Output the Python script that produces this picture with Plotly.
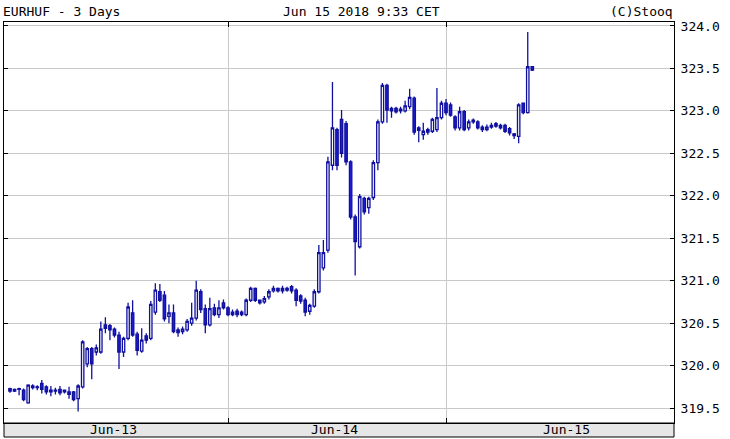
import pandas as pd
import plotly.graph_objects as go

# ---- data (EURHUF, 30-minute candles, Jun 13 00:00 -> Jun 15 09:30) ----
opens = [
    319.73, 319.72, 319.73, 319.71, 319.56, 319.76, 319.75, 319.79, 319.75, 319.71,
    319.70, 319.72, 319.69, 319.69, 319.69, 319.61, 319.75, 320.02, 320.20, 320.16,
    320.16, 320.48, 320.47, 320.43, 320.36, 320.16, 320.32, 320.62, 320.37, 320.17,
    320.35, 320.32, 320.63, 320.87, 320.83, 320.58, 320.62, 320.42, 320.40, 320.42,
    320.50, 320.56, 320.87, 320.67, 320.48, 320.68, 320.60, 320.74, 320.68, 320.63,
    320.64, 320.63, 320.60, 320.77, 320.91, 320.77, 320.75, 320.81, 320.88, 320.91,
    320.91, 320.91, 320.93, 320.89, 320.82, 320.77, 320.64, 320.70, 320.87, 321.15,
    321.36, 322.36, 322.78, 322.90, 322.85, 322.40, 321.75, 321.40, 321.97, 321.86,
    321.98, 322.39, 322.87, 323.30, 323.03, 323.03, 323.02, 323.00, 323.05, 323.15,
    322.80, 322.72, 322.78, 322.76, 322.78, 322.92, 323.09, 323.07, 322.93, 322.80,
    322.99, 322.80, 322.87, 322.87, 322.81, 322.78, 322.81, 322.85, 322.83, 322.83,
    322.79, 322.73, 322.70, 323.09, 322.98, 323.52,
]
highs = [
    319.74, 319.73, 319.74, 319.73, 319.78, 319.78, 319.77, 319.83, 319.77, 319.76,
    319.74, 319.76, 319.72, 319.75, 319.70, 319.78, 320.30, 320.22, 320.22, 320.25,
    320.52, 320.57, 320.49, 320.45, 320.40, 320.34, 320.74, 320.77, 320.40, 320.44,
    320.38, 320.76, 320.97, 320.96, 320.88, 320.72, 320.72, 320.45, 320.46, 320.55,
    320.74, 321.00, 320.90, 320.72, 320.80, 320.73, 320.77, 320.78, 320.70, 320.66,
    320.67, 320.65, 320.79, 320.93, 320.92, 320.78, 320.82, 320.90, 320.94, 320.92,
    320.94, 320.93, 320.95, 320.91, 320.84, 320.80, 320.73, 320.90, 321.42, 321.48,
    322.46, 323.34, 322.80, 323.01, 322.88, 322.42, 321.78, 322.02, 321.99, 321.99,
    322.42, 322.90, 323.33, 323.32, 323.05, 323.05, 323.05, 323.12, 323.26, 323.17,
    322.82, 322.86, 322.80, 322.92, 323.27, 323.12, 323.14, 323.10, 322.95, 323.05,
    323.01, 322.90, 322.91, 322.89, 322.83, 322.84, 322.86, 322.87, 322.85, 322.85,
    322.81, 322.74, 323.09, 323.10, 323.93, 323.53,
]
lows = [
    319.68, 319.69, 319.65, 319.58, 319.55, 319.72, 319.71, 319.67, 319.66, 319.64,
    319.66, 319.65, 319.67, 319.61, 319.58, 319.46, 319.73, 319.98, 319.84, 320.12,
    320.14, 320.38, 320.30, 320.33, 319.96, 320.10, 320.30, 320.34, 320.12, 320.15,
    320.26, 320.30, 320.60, 320.75, 320.52, 320.50, 320.38, 320.34, 320.37, 320.40,
    320.47, 320.53, 320.62, 320.38, 320.46, 320.58, 320.56, 320.66, 320.58, 320.58,
    320.57, 320.58, 320.58, 320.75, 320.75, 320.72, 320.73, 320.78, 320.86, 320.86,
    320.85, 320.87, 320.85, 320.70, 320.73, 320.58, 320.60, 320.68, 320.85, 321.12,
    321.33, 322.30, 322.30, 322.45, 322.36, 321.72, 321.06, 321.38, 321.78, 321.79,
    321.95, 322.30, 322.85, 322.86, 322.92, 322.97, 322.97, 322.98, 323.02, 322.72,
    322.63, 322.66, 322.72, 322.74, 322.75, 322.90, 322.95, 322.93, 322.77, 322.77,
    322.76, 322.77, 322.85, 322.78, 322.75, 322.76, 322.79, 322.80, 322.78, 322.74,
    322.71, 322.67, 322.62, 322.96, 322.97, 323.47,
]
closes = [
    319.70, 319.70, 319.72, 319.60, 319.77, 319.74, 319.74, 319.72, 319.69, 319.69,
    319.71, 319.68, 319.71, 319.66, 319.60, 319.76, 320.28, 320.20, 320.02, 320.21,
    320.43, 320.44, 320.42, 320.36, 320.16, 320.32, 320.69, 320.36, 320.18, 320.30,
    320.30, 320.72, 320.89, 320.77, 320.55, 320.62, 320.40, 320.39, 320.43, 320.52,
    320.56, 320.89, 320.66, 320.48, 320.67, 320.60, 320.68, 320.68, 320.60, 320.60,
    320.60, 320.60, 320.77, 320.91, 320.77, 320.74, 320.79, 320.87, 320.91, 320.88,
    320.88, 320.89, 320.88, 320.77, 320.76, 320.63, 320.71, 320.87, 321.33, 321.33,
    322.40, 322.80, 322.36, 322.50, 322.40, 321.75, 321.46, 321.99, 321.81, 321.97,
    322.39, 322.87, 323.30, 323.01, 323.00, 322.99, 323.00, 323.06, 323.16, 322.75,
    322.77, 322.76, 322.75, 322.90, 322.92, 323.09, 322.98, 322.95, 322.80, 322.99,
    322.78, 322.87, 322.89, 322.80, 322.78, 322.81, 322.83, 322.82, 322.80, 322.76,
    322.74, 322.71, 323.07, 322.98, 323.52, 323.48,
]
times = pd.date_range("2018-06-13 00:00", periods=len(opens), freq="30min")

day_ticks = ["2018-06-14 00:00", "2018-06-15 00:00"]
y_ticks = [319.5, 320.0, 320.5, 321.0, 321.5, 322.0, 322.5, 323.0, 323.5, 324.0]
bottom_labels = ["Jun-13", "Jun-14", "Jun-15"]
bottom_label_pos = [0.1627, 0.494, 0.840]

title_left = "EURHUF - 3 Days"
title_mid = "Jun 15 2018 9:33 CET"
title_right = "(C)Stooq"

FONT = "DejaVu Sans Mono"
LINE = "#1010a0"
FILL_DOWN = "#1e1ed2"
GRID = "#c9c9c9"

fig = go.Figure()
fig.add_trace(go.Candlestick(
    x=times, open=opens, high=highs, low=lows, close=closes,
    increasing=dict(line=dict(color=LINE, width=1.3), fillcolor="white"),
    decreasing=dict(line=dict(color=LINE, width=1.3), fillcolor=FILL_DOWN),
    whiskerwidth=0, showlegend=False, hoverinfo="skip",
))

W, H = 730, 439
ml, mr, mt, mb = 4, 56, 22, 16
ph = H - mt - mb
band = 14 / ph

fig.update_layout(
    width=W, height=H,
    margin=dict(l=ml, r=mr, t=mt, b=mb, pad=0),
    paper_bgcolor="white", plot_bgcolor="white",
    font=dict(family=FONT, size=13, color="black"),
    showlegend=False,
    boxgap=0.25,
    xaxis=dict(
        type="date",
        range=["2018-06-12 23:20:22", "2018-06-16 01:06:03"],
        rangeslider=dict(visible=False),
        tickvals=day_ticks, ticktext=["", ""],
        showgrid=True, gridcolor=GRID, gridwidth=1,
        ticks="inside", ticklen=5, tickcolor="black", tickwidth=1,
        showline=True, linecolor="black", linewidth=1, mirror="ticks",
        zeroline=False,
    ),
    yaxis=dict(
        side="right",
        range=[319.324, 324.047],
        tickvals=y_ticks, ticktext=[f"{v:.1f}" for v in y_ticks],
        showgrid=True, gridcolor=GRID, gridwidth=1,
        ticks="inside", ticklen=4, tickcolor="black", tickwidth=1,
        showline=True, linecolor="black", linewidth=1, mirror="ticks",
        ticklabelstandoff=3,
        tickfont=dict(family=FONT, size=13, color="black"),
        zeroline=False,
    ),
)

# bottom gray band with labels
fig.add_shape(type="rect", xref="paper", yref="paper",
              x0=0, x1=1, y0=-band, y1=0,
              fillcolor="#e6e6e6", line=dict(color="black", width=1), layer="below")
for lab, xp in zip(bottom_labels, bottom_label_pos):
    fig.add_annotation(text=lab, xref="paper", yref="paper", x=xp, y=-band / 2,
                       xanchor="center", yanchor="middle", showarrow=False,
                       font=dict(family=FONT, size=13, color="black"))

# header
ytop = 1 + 11 / ph
fig.add_annotation(text=title_left, xref="paper", yref="paper", x=-0.004, y=ytop,
                   xanchor="left", yanchor="middle", showarrow=False)
fig.add_annotation(text=title_mid, xref="paper", yref="paper", x=0.533, y=ytop,
                   xanchor="center", yanchor="middle", showarrow=False)
fig.add_annotation(text=title_right, xref="paper", yref="paper", x=1.002, y=ytop,
                   xanchor="right", yanchor="middle", showarrow=False)

fig.write_html("out.html", config={"displayModeBar": False},
               post_script="document.body.style.margin='0px';")
